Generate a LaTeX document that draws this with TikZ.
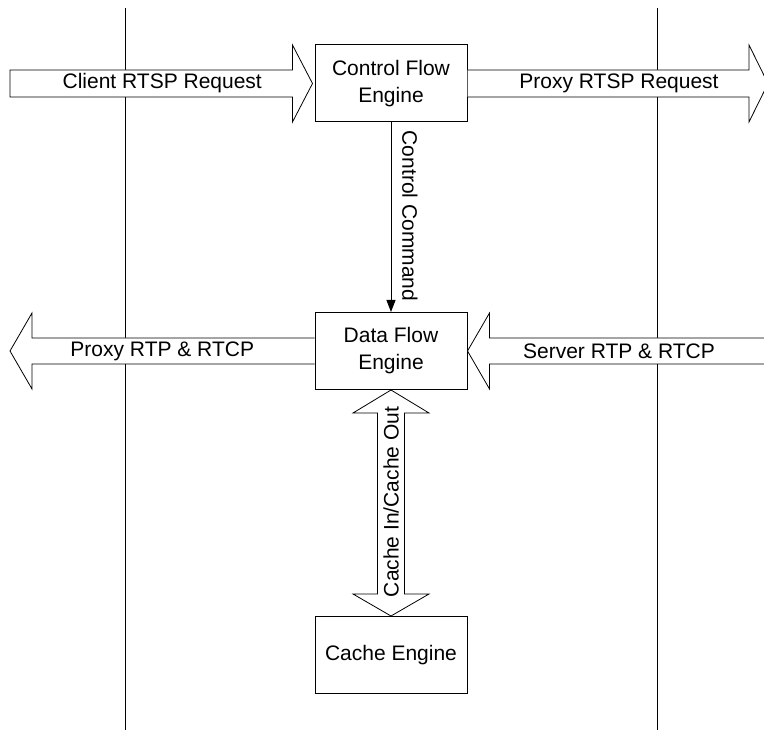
\documentclass[tikz,border=0pt]{standalone}
\usepackage{fontspec}
\setmainfont{Liberation Sans}
\usetikzlibrary{calc,arrows.meta}
\begin{document}
\begin{tikzpicture}[x=1pt,y=-1pt,
  every node/.style={font=\fontsize{21}{27}\selectfont},
  engine/.style={draw=black,line width=1pt,fill=white,minimum width=152pt,minimum height=77pt,inner sep=0pt,align=center},
  blockarrow/.style={draw=black,line width=0.8pt,fill=white,line join=miter},
  boundary/.style={draw=black,line width=1pt},
  label/.style={inner sep=0pt}]
\useasboundingbox (0,0) rectangle (764,730);

% proxy boundaries
\coordinate (lt) at (125,8);  \coordinate (lb) at (125,730);
\coordinate (rt) at (657,8);  \coordinate (rb) at (657,730);
\draw[boundary] (lt) -- (lb);
\draw[boundary] (rt) -- (rb);

% engines
\node[engine] (cfe) at (391,83.5) {Control Flow\\Engine};
\node[engine] (dfe) at (391,351) {Data Flow\\Engine};
\node[engine] (ce)  at (391,655) {Cache Engine};

% free ends of the block arrows
\coordinate (clientEnd) at (10,83.5);
\coordinate (serverEnd) at (768,83.5);
\coordinate (proxyOut)  at (10,351);
\coordinate (serverIn)  at (770,351);

% client request into control flow engine
\draw[blockarrow] ($(clientEnd)+(0,-13.5)$) -- ($(cfe.west)+(-22,-13.5)$) -- ($(cfe.west)+(-22,-38.5)$)
  -- ($(cfe.west)+(-2,0)$) -- ($(cfe.west)+(-22,38.5)$) -- ($(cfe.west)+(-22,13.5)$)
  -- ($(clientEnd)+(0,13.5)$) -- cycle;
\node[label] (lclient) at ($(clientEnd)!0.5!(cfe.west)$) {Client RTSP Request};

% proxy request out of control flow engine
\draw[blockarrow] ($(cfe.east)+(0,-13.5)$) -- ($(serverEnd)+(-19,-13.5)$) -- ($(serverEnd)+(-19,-38.5)$)
  -- (serverEnd) -- ($(serverEnd)+(-19,38.5)$) -- ($(serverEnd)+(-19,13.5)$)
  -- ($(cfe.east)+(0,13.5)$);
\node[label] (lproxyreq) at (619,83.5) {Proxy RTSP Request};

% media out to the client
\draw[blockarrow] ($(dfe.west)+(0,-13)$) -- ($(proxyOut)+(22,-13)$) -- ($(proxyOut)+(22,-38)$)
  -- (proxyOut) -- ($(proxyOut)+(22,38)$) -- ($(proxyOut)+(22,13)$) -- ($(dfe.west)+(0,13)$);
\node[label] (lproxyrtp) at ($(proxyOut)!0.5!(dfe.west)$) {Proxy RTP \& RTCP};

% media in from the server
\draw[blockarrow] ($(serverIn)+(0,-13)$) -- ($(dfe.east)+(22,-13)$) -- ($(dfe.east)+(22,-38)$)
  -- (dfe.east) -- ($(dfe.east)+(22,38)$) -- ($(dfe.east)+(22,13)$) -- ($(serverIn)+(0,13)$);
\node[label] (lserverrtp) at (619,351) {Server RTP \& RTCP};

% control command
\draw[line width=1pt,-{Triangle[length=12pt,width=9pt]}] (cfe.south) -- (dfe.north);
\node[label,rotate=-90] (lcmd) at (410,216) {Control Command};

% cache in / cache out
\draw[blockarrow] (dfe.south) -- ($(dfe.south)+(38,23)$) -- ($(dfe.south)+(13.5,23)$)
  -- ($(ce.north)+(13.5,-22)$) -- ($(ce.north)+(38,-22)$) -- (ce.north)
  -- ($(ce.north)+(-38,-22)$) -- ($(ce.north)+(-13.5,-22)$)
  -- ($(dfe.south)+(-13.5,23)$) -- ($(dfe.south)+(-38,23)$) -- cycle;
\node[label,rotate=90] (lcache) at ($(dfe.south)!0.5!(ce.north)+(0,-1)$) {Cache In/Cache Out};
\end{tikzpicture}
\end{document}
